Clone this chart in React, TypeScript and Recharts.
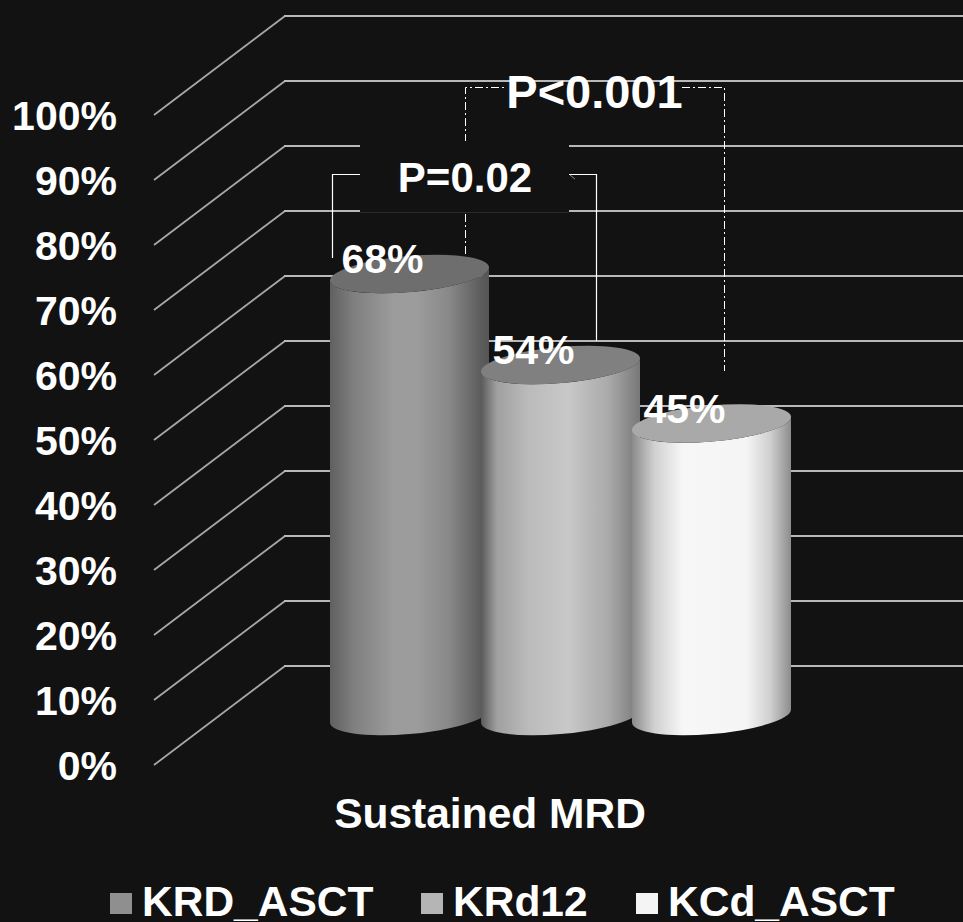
import { BarChart, Bar, XAxis, YAxis, CartesianGrid, Legend, LabelList, Customized } from 'recharts';

const categories = ['Sustained MRD'];
const krdAsct = [68];
const krd12 = [54];
const kcdAsct = [45];
const yTicks = [0, 10, 20, 30, 40, 50, 60, 70, 80, 90, 100];

const chartData = categories.map((name, i) => ({
  name,
  KRD_ASCT: krdAsct[i],
  KRd12: krd12[i],
  KCd_ASCT: kcdAsct[i],
}));

const FONT = '"Liberation Sans", Arial, sans-serif';
const BG = '#121212';
const legendColors = ['#8f8f8f', '#b5b5b5', '#f4f4f4'];
const legendX = [110, 421, 636];

// tilt of the cylinder ends, in degrees
const TILT = -5;
const RY = 18;

function makeCylinder(gradientId: string, capFill: string) {
  return function Cylinder(props: any) {
    const { x, y, width, height } = props;
    const rx = width / 2 + 0.3;
    const cx = x + width / 2;
    const t = (TILT * Math.PI) / 180;
    const a = Math.sqrt(rx * rx * Math.cos(t) ** 2 + RY * RY * Math.sin(t) ** 2);
    const dy = (Math.sin(t) * Math.cos(t) * (rx * rx - RY * RY)) / a;
    const bottom = y + height;
    const body = [
      `M ${cx - a} ${y - dy}`,
      `L ${cx - a} ${bottom - dy}`,
      `A ${rx} ${RY} ${TILT} 0 0 ${cx + a} ${bottom + dy}`,
      `L ${cx + a} ${y + dy}`,
      `A ${rx} ${RY} ${TILT} 0 1 ${cx - a} ${y - dy}`,
      'Z',
    ].join(' ');
    return (
      <g>
        <path d={body} fill={`url(#${gradientId})`} />
        <ellipse cx={cx} cy={y} rx={rx} ry={RY} fill={capFill} transform={`rotate(${TILT} ${cx} ${y})`} />
      </g>
    );
  };
}

function ValueLabel(props: any) {
  const { x, width, y, value } = props;
  return (
    <text x={x + width / 2 - 27} y={y - 1} textAnchor="middle" fill="#fff" fontFamily={FONT} fontWeight="bold" fontSize={41}>
      {value}%
    </text>
  );
}

// back wall lines: short diagonal from the axis, then flat to the right edge
function WallLine(props: any) {
  const { y1, index } = props;
  return (
    <g key={index}>
      <line x1={154} y1={y1 + 49} x2={285} y2={y1 - 50} stroke="#a8a8a8" strokeWidth={1.8} />
      <line x1={284} y1={y1 - 50} x2={963} y2={y1 - 50} stroke="#b8b8b8" strokeWidth={2} />
    </g>
  );
}

function YTick({ y, payload }: any) {
  return (
    <text x={117} y={y + 64} textAnchor="end" fill="#fff" fontFamily={FONT} fontWeight="bold" fontSize={41}>
      {payload.value}%
    </text>
  );
}

function XTick({ payload }: any) {
  return (
    <text x={490} y={828} textAnchor="middle" fill="#fff" fontFamily={FONT} fontWeight="bold" fontSize={42.5}>
      {payload.value}
    </text>
  );
}

function Brackets() {
  const dash = { stroke: '#fff', strokeWidth: 1, strokeDasharray: '8 3 2 3', fill: 'none' };
  const solid = { stroke: '#fff', strokeWidth: 1.2, fill: 'none' };
  return (
    <g>
      <path d="M465.5 254 V87.5 H507 M682 87.5 H724.5 V371" {...dash} />
      <path d="M332.5 258 V174.5 H596.5 V341" {...solid} />
      <rect x={360} y={141} width={209} height={72} fill={BG} />
      <line x1={360} y1={212.5} x2={569} y2={212.5} stroke="#2a2a2a" strokeWidth={1} />
      <line x1={570} y1={175} x2={575} y2={179} stroke="#888" strokeWidth={1} />
      <text x={594.5} y={107.5} textAnchor="middle" fill="#fff" fontFamily={FONT} fontWeight="bold" fontSize={47}>
        P&lt;0.001
      </text>
      <text x={465} y={192} textAnchor="middle" fill="#fff" fontFamily={FONT} fontWeight="bold" fontSize={42}>
        P=0.02
      </text>
    </g>
  );
}

function LegendRow({ payload }: any) {
  return (
    <div style={{ height: 0, position: 'relative' }}>
      {(payload || []).map((item: any, i: number) => (
        <div key={item.value}>
          <div
            style={{
              position: 'absolute',
              left: legendX[i],
              top: 893,
              width: 22,
              height: 21,
              background: legendColors[i],
            }}
          />
          <div
            style={{
              position: 'absolute',
              left: legendX[i] + 32,
              top: 882,
              fontFamily: FONT,
              fontWeight: 'bold',
              fontSize: 42.5,
              lineHeight: '40px',
              color: '#fff',
              whiteSpace: 'nowrap',
            }}
          >
            {item.value}
          </div>
        </div>
      ))}
    </div>
  );
}

export default function App() {
  return (
    <div style={{ position: 'absolute', left: 0, top: 0, width: 963, height: 922, background: BG, overflow: 'hidden' }}>
      <BarChart
        width={963}
        height={922}
        data={chartData}
        margin={{ top: 66, right: 0, left: 0, bottom: 146 }}
        barSize={159}
        barGap={-8}
      >
        <defs>
          <linearGradient id="cylKrd" x1="0" y1="0" x2="1" y2="0">
            <stop offset="0" stopColor="#606060" />
            <stop offset="0.15" stopColor="#7f7f7f" />
            <stop offset="0.4" stopColor="#9c9c9c" />
            <stop offset="0.55" stopColor="#9c9c9c" />
            <stop offset="0.75" stopColor="#888888" />
            <stop offset="0.95" stopColor="#5c5c5c" />
            <stop offset="1" stopColor="#555555" />
          </linearGradient>
          <linearGradient id="cylKrd12" x1="0" y1="0" x2="1" y2="0">
            <stop offset="0" stopColor="#5a5a5a" />
            <stop offset="0.1" stopColor="#a0a0a0" />
            <stop offset="0.3" stopColor="#bbbbbb" />
            <stop offset="0.55" stopColor="#c8c8c8" />
            <stop offset="0.8" stopColor="#aaaaaa" />
            <stop offset="1" stopColor="#787878" />
          </linearGradient>
          <linearGradient id="cylKcd" x1="0" y1="0" x2="1" y2="0">
            <stop offset="0" stopColor="#8a8a8a" />
            <stop offset="0.14" stopColor="#d0d0d0" />
            <stop offset="0.32" stopColor="#f7f7f7" />
            <stop offset="0.72" stopColor="#f5f5f5" />
            <stop offset="0.87" stopColor="#cfcfcf" />
            <stop offset="1" stopColor="#8c8c8c" />
          </linearGradient>
        </defs>
        <CartesianGrid vertical={false} horizontal={WallLine} syncWithTicks />
        <XAxis dataKey="name" axisLine={false} tickLine={false} height={60} tick={XTick} />
        <YAxis
          width={157}
          domain={[0, 100]}
          ticks={yTicks}
          interval={0}
          axisLine={false}
          tickLine={false}
          tick={YTick}
        />
        <Customized component={Brackets} />
        <Bar dataKey="KRD_ASCT" isAnimationActive={false} shape={makeCylinder('cylKrd', '#6e6e6e')}>
          <LabelList dataKey="KRD_ASCT" content={ValueLabel} />
        </Bar>
        <Bar dataKey="KRd12" isAnimationActive={false} shape={makeCylinder('cylKrd12', '#808080')}>
          <LabelList dataKey="KRd12" content={ValueLabel} />
        </Bar>
        <Bar dataKey="KCd_ASCT" isAnimationActive={false} shape={makeCylinder('cylKcd', '#a9a9a9')}>
          <LabelList dataKey="KCd_ASCT" content={ValueLabel} />
        </Bar>
        <Legend itemSorter={null} content={LegendRow} wrapperStyle={{ left: 0, top: 0, width: 963, bottom: 'auto' }} />
      </BarChart>
    </div>
  );
}
